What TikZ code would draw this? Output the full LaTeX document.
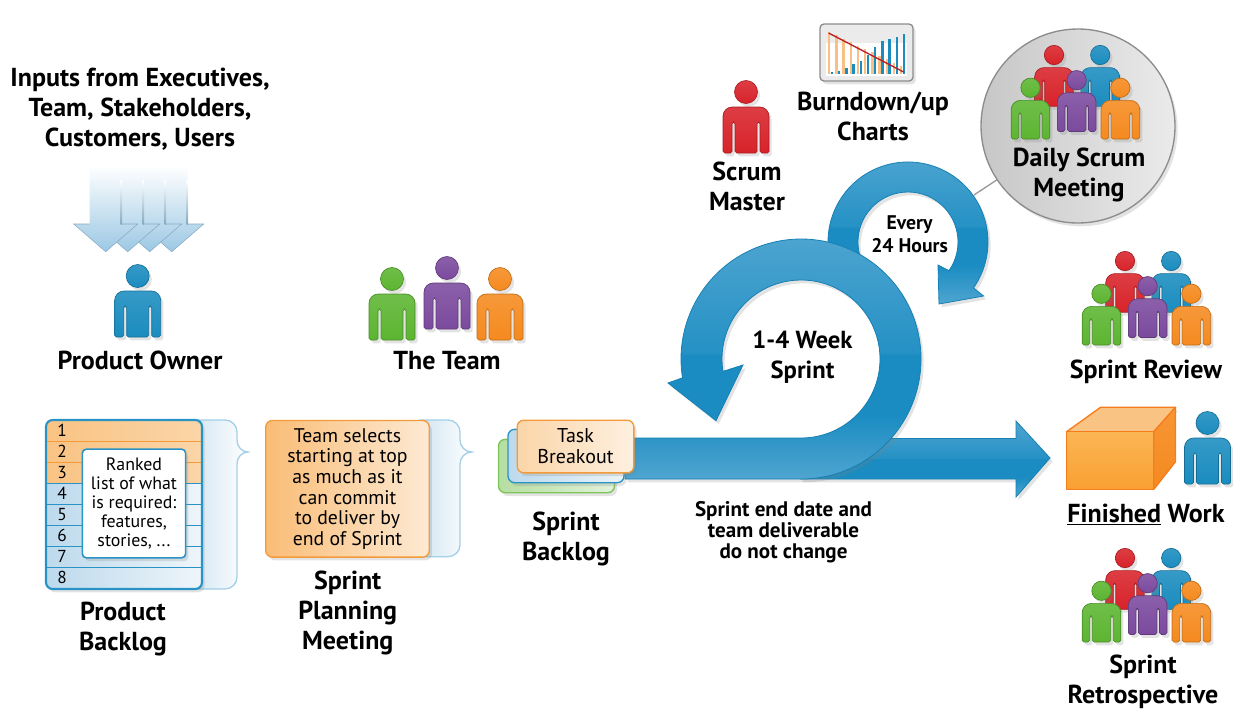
\documentclass[tikz,border=0pt]{standalone}
\usepackage{fontspec}
\setmainfont{PT Sans}
\usetikzlibrary{positioning,shadows,shapes.geometric}
\definecolor{scrumblue}{HTML}{1A8CBF}
\definecolor{scrumred}{HTML}{D8232A}
\definecolor{scrumgreen}{HTML}{5CB531}
\definecolor{scrumpurple}{HTML}{7B4A9E}
\definecolor{scrumorange}{HTML}{F58A1F}
\definecolor{arrowdark}{HTML}{1A8CC2}
\definecolor{arrowlight}{HTML}{4FA5D0}
\definecolor{arrowedge}{HTML}{1680B4}
\definecolor{rowblue}{HTML}{BCD9EC}
\definecolor{roworange}{HTML}{F9C383}
\definecolor{edgeorange}{HTML}{F39A3A}
\definecolor{edgeblue}{HTML}{2A93C6}
\definecolor{bracketblue}{HTML}{A3CFE8}
\definecolor{inputblue}{HTML}{9CC8E4}
\definecolor{cubetop}{HTML}{FBB654}
\definecolor{cubelow}{HTML}{F9A032}
\pgfdeclareverticalshading{bandblue}{100bp}{color(0bp)=(arrowlight);color(25bp)=(arrowlight);
  color(38bp)=(arrowdark);color(50bp)=(arrowdark);color(50.3bp)=(arrowdark!80!arrowlight);
  color(75bp)=(arrowlight);color(100bp)=(arrowlight)}
\tikzset{
softshadow/.style = {drop shadow={opacity=.22, shadow xshift=2pt, shadow yshift=-2.5pt}},
personfill/.style = {draw=#1!78!black, line width=.5pt,
                     top color=#1!88!white, bottom color=#1, softshadow},
person/.pic = {
  \path[personfill=#1] (0,0) circle (11.5);
  \path[personfill=#1, rounded corners=1.3pt] (0,-61) -- (-11,-61) -- (-11,-30)
       -- (-14,-30) -- (-14,-61) -- (-23,-61) -- (-23,-35)
       [rounded corners=7pt] -- (-23,-15) -- (23,-15) -- (23,-35)
       [rounded corners=1.3pt] -- (23,-61) -- (14,-61) -- (14,-30)
       -- (11,-30) -- (11,-61) -- cycle;
},
scrumgroup/.pic = {
  \pic[transform shape] at (0,0) {person=scrumred};
  \pic[transform shape] at (55,0) {person=scrumblue};
  \pic[transform shape] at (-28,-39) {person=scrumgreen};
  \pic[transform shape] at (27,-30) {person=scrumpurple};
  \pic[transform shape] at (79,-39) {person=scrumorange};
},
}

\begin{document}
\begin{tikzpicture}[x=.75pt, y=.75pt,
node distance = 0pt,
title/.style = {font=\fontsize{19.5}{22.5}\selectfont\bfseries, align=center, yshift=-1pt},
small/.style = {font=\fontsize{15.8}{15.75}\selectfont\bfseries, align=center, yshift=-1pt},
rowbox/.style = {minimum width=117pt, minimum height=15.75pt, outer sep=0pt,
                 inner sep=0pt, text width=100pt, align=left,
                 font=\fontsize{13}{13}\selectfont, draw=#1},
rowtop/.style = {rowbox=edgeorange, left color=roworange, right color=roworange!70!white},
rowlow/.style = {rowbox=edgeblue, left color=rowblue, right color=rowblue!25!white},
bracketbox/.style = {draw=bracketblue, line width=1pt, left color=rowblue!70!white, right color=white},
orangecard/.style = {draw=edgeorange, line width=1pt, rounded corners=5pt,
                     left color=roworange!90!orange, right color=roworange!35!white,
                     softshadow, align=center, outer sep=0pt},
bigarrow/.style = {shading=bandblue, draw=arrowedge, line width=.6pt, softshadow},
inputarrow/.style = {top color=white, bottom color=inputblue},
inputedge/.style = {top color=white, bottom color=inputblue!85!black},
]
\useasboundingbox (0,0) rectangle (1239,-715);

% inputs
\node (inputs) [title] at (140,-108) {Inputs from Executives,\\Team, Stakeholders,\\Customers, Users};
\foreach \x in {171.7,149.7,127.7,105.7} {
    \path[inputarrow] (\x-16,-166) -- (\x-16,-224) -- (\x-32,-224) -- (\x,-251.7)
         -- (\x+32,-224) -- (\x+16,-224) -- (\x+16,-166) -- cycle;
    \path[inputedge] (\x+15,-180) rectangle (\x+16.5,-224);
    \draw[inputblue!85!black, line width=.4pt] (\x+16,-224) -- (\x+32,-224) -- (\x,-251.7) -- (\x-32,-224) -- (\x-16,-224);
}
\pic (owner) at (137.7,-276) {person=scrumblue};
\node (ownerlabel) [title] at (140,-359) {Product Owner};

% the team
\pic (teamgreen) at (392,-279) {person=scrumgreen};
\pic (teampurple) at (447,-268) {person=scrumpurple};
\pic (teamorange) at (500,-279) {person=scrumorange};
\node (teamlabel) [title] at (447,-359) {The Team};

% product backlog
\path[bracketbox] (190,-420) -- (225,-420) to[out=0,in=90] (237,-432) -- (237,-440)
     to[out=-90,in=180] (248,-452) to[out=180,in=90] (237,-464) -- (237,-577)
     to[out=-90,in=0] (225,-589) -- (190,-589) -- cycle;
\node (backlogbase) [fill=white, rounded corners=5pt, minimum width=117pt,
                     minimum height=126.75pt, inner sep=0pt, softshadow] at (124,-504.5) {};
\begin{scope}
\clip[rounded corners=5pt] (45.7,-420) rectangle (202,-589);
\node (row1) [rowtop] at (124,-430.5) {1};
\node (row2) [rowtop, below=of row1] {2};
\node (row3) [rowtop, below=of row2] {3};
\node (row4) [rowlow, below=of row3] {4};
\node (row5) [rowlow, below=of row4] {5};
\node (row6) [rowlow, below=of row5] {6};
\node (row7) [rowlow, below=of row6] {7};
\node (row8) [rowlow, below=of row7] {8};
\end{scope}
\node (backlog) [draw=edgeblue, line width=1.6pt, rounded corners=5pt, minimum width=117pt,
                 minimum height=126.75pt, outer sep=0pt, inner sep=0pt] at (124,-504.5) {};
\node (card) [draw=edgeblue, line width=1.2pt, fill=white, rounded corners=3pt, softshadow,
              minimum width=77.5pt, minimum height=81.5pt, inner sep=0pt, align=center,
              font=\fontsize{13.4}{14.1}\selectfont] at (134,-503.5)
              {Ranked\\list of what\\is required:\\features,\\stories, ...};
\node (backloglabel) [title] at (123,-628) {Product\\Backlog};

% sprint planning
\path[bracketbox] (420,-420) -- (448,-420) to[out=0,in=90] (460,-432) -- (460,-440)
     to[out=-90,in=180] (471.7,-452) to[out=180,in=90] (460,-464) -- (460,-544.7)
     to[out=-90,in=0] (448,-556.7) -- (420,-556.7) -- cycle;
\node (planning) [orangecard, minimum width=122.7pt, minimum height=102.5pt, inner sep=0pt,
                  font=\fontsize{14.8}{15.5}\selectfont] at (347.5,-488.8)
                  {Team selects\\starting at top\\as much as it\\can commit\\to deliver by\\end of Sprint};
\node (planninglabel) [title] at (347.7,-611.7) {Sprint\\Planning\\Meeting};

% small loop, then the arrows
\path[bigarrow] (800,-438.5) -- (1016,-438.5) -- (1016,-421) -- (1050,-458) -- (1016,-497)
     -- (1016,-479) -- (800,-479) -- cycle;
\path[bigarrow] (908+80*cos 200,-242+80*sin 200) arc (200:-35:80) -- (983.6,-296) -- (939,-304)
     -- (938,-265) -- (908+50*cos 35,-242-50*sin 35) arc (-35:200:50) -- cycle;
\path[bigarrow] (625,-438) -- (801,-438) arc (270:549:79) -- (743,-365) -- (716,-420.7)
     -- (668,-383) -- (682.5,-377.8) arc (189:-90:120) -- (625,-479) -- cycle;
\node (sprint) [title, font=\fontsize{18.5}{22.5}\selectfont\bfseries] at (802.5,-356) {1-4 Week\\Sprint};
\node (every) [small, font=\fontsize{14.8}{17.3}\selectfont\bfseries] at (909.6,-233) {Every\\24 Hours};
\node (fixed) [small] at (783.5,-531) {Sprint end date and\\team deliverable\\do not change};

% sprint backlog
\node (taskgreen) [draw=scrumgreen!80!white, line width=1pt, rounded corners=5pt, left color=scrumgreen!45!white,
                   right color=scrumgreen!18!white, softshadow, minimum width=87pt, minimum height=40pt,
                   outer sep=0pt] at (556.5,-466) {};
\node (taskblue) [draw=edgeblue, line width=1pt, rounded corners=5pt, left color=rowblue, right color=rowblue!30!white,
                  softshadow, minimum width=87pt, minimum height=40pt, outer sep=0pt] at (566,-456) {};
\node (task) [orangecard, minimum width=87.5pt, minimum height=39.5pt, inner sep=0pt,
              font=\fontsize{15}{15.75}\selectfont, right color=roworange!25!white,
              left color=roworange!70!white] at (575.5,-446.5) {Task\\Breakout};
\node (tasklabel) [title] at (566,-538) {Sprint\\Backlog};

% roles above the loop
\pic (master) at (746,-92) {person=scrumred};
\node (masterlabel) [title] at (747,-185) {Scrum\\Master};
\node (chart) [draw=black!45, line width=1pt, rounded corners=3pt, fill=black!8, softshadow,
               minimum width=69.75pt, minimum height=42.75pt, outer sep=0pt] at (866.5,-52.5) {};
\fill[white] (826,-43) rectangle (907,-76);
\foreach \i/\b in {0/2,1/3,2/6,3/10,4/13,5/19,6/27,7/33,8/35,9/37,10/40} {
    \fill[scrumorange!55!white] (828+7.2*\i,-74) rectangle ++(2.4,42-3.4*\i);
    \fill[scrumblue] (830.8+7.2*\i,-74) rectangle ++(2.4,\b);
}
\coordinate (burnstart) at (828.6,-33);
\coordinate (burnend) at (903.6,-72);
\draw[scrumred!85!black, line width=1pt] (burnstart) -- (burnend);
\node (chartlabel) [title] at (873,-115) {Burndown/up\\Charts};

% daily scrum
\coordinate (dailyend) at (974,-195);
\node (daily) [circle, draw=black!45, line width=1pt, left color=black!22, right color=black!8,
               softshadow, minimum size=145.5pt, inner sep=0pt, outer sep=0pt] at (1078,-126) {};
\draw[black!40, line width=1pt] (daily) -- (dailyend);
\pic (dailygroup) [scale=.84] at (1054,-55) {scrumgroup};
\node (dailylabel) [title] at (1079,-174) {Daily Scrum\\Meeting};

% right column
\pic (reviewgroup) [scale=.84] at (1125,-261) {scrumgroup};
\node (reviewlabel) [title] at (1146,-370) {Sprint Review};
\coordinate (cubeA) at (1066.6,-431.7);
\coordinate (cubeB) at (1153.8,-431.7);
\coordinate (cubeC) at (1153.8,-489.3);
\coordinate (cubeD) at (1066.6,-489.3);
\coordinate (cubeE) at (1100.5,-407.3);
\coordinate (cubeF) at (1175.5,-407.3);
\coordinate (cubeG) at (1175.5,-461.7);
\path[draw=scrumorange!90!red, line width=1pt, fill=roworange, line join=round, softshadow]
     (cubeA) -- (cubeE) -- (cubeF) -- (cubeB) -- cycle;
\path[draw=scrumorange!90!red, line width=1pt, top color=scrumorange!90!white, bottom color=scrumorange,
      line join=round] (cubeB) -- (cubeF) -- (cubeG) -- (cubeC) -- cycle;
\path[draw=scrumorange!90!red, line width=1pt, top color=cubetop, bottom color=cubelow,
      line join=round] (cubeA) -- (cubeB) -- (cubeC) -- (cubeD) -- cycle;
\pic (finisher) at (1207.5,-423) {person=scrumblue};
\node (finishedlabel) [title] at (1146,-513) {\underline{Finished} Work};
\pic (retrogroup) [scale=.84] at (1125,-558) {scrumgroup};
\node (retrolabel) [title] at (1143,-680) {Sprint\\Retrospective};
\end{tikzpicture}
\end{document}
